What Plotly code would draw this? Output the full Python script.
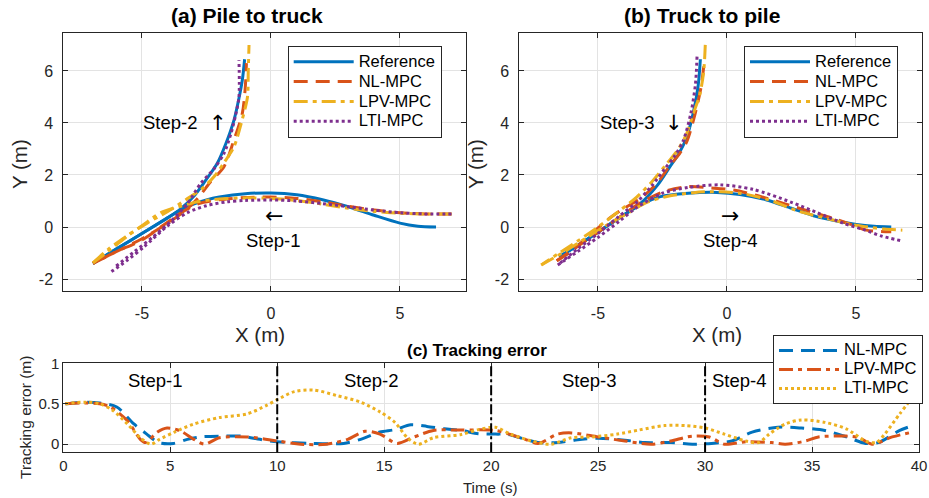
import plotly.graph_objects as go

# ---------------- data: (a) Pile to truck ----------------
a_ref_s1_x = [6.4, 5.7, 5.0, 4.0, 3.0, 2.0, 1.0, 0.0, -1.0, -2.0, -2.5, -3.0, -3.5, -4.0, -5.0, -6.0, -6.9]
a_ref_s1_y = [0.0, 0.03, 0.15, 0.45, 0.78, 1.05, 1.24, 1.31, 1.28, 1.15, 1.04, 0.88, 0.65, 0.36, -0.25, -0.85, -1.4]
a_ref_s2_x = [-6.9, -6.0, -5.0, -4.0, -3.5, -3.0, -2.6, -2.08, -1.75, -1.43, -1.25, -1.11, -1.02]
a_ref_s2_y = [-1.4, -0.85, -0.25, 0.36, 0.7, 1.17, 1.7, 2.45, 3.2, 4.12, 4.9, 5.65, 6.45]

a_nl_s1_x = [7.0, 6.0, 5.0, 4.0, 3.0, 2.0, 1.0, 0.0, -1.0, -2.0, -2.8, -3.4, -4.2, -5.0, -6.0, -6.9]
a_nl_s1_y = [0.5, 0.5, 0.55, 0.65, 0.8, 0.97, 1.1, 1.15, 1.13, 1.05, 0.9, 0.6, 0.05, -0.5, -0.95, -1.4]
a_nl_s2_x = [-6.9, -6.0, -5.0, -4.0, -3.3, -2.8, -2.34, -1.82, -1.45, -1.11, -1.0, -0.95]
a_nl_s2_y = [-1.4, -0.95, -0.45, 0.15, 0.65, 1.15, 1.74, 2.32, 3.3, 4.37, 5.3, 6.3]

a_lpv_s1_x = [7.0, 6.0, 5.0, 4.0, 3.0, 2.0, 1.0, 0.0, -1.0, -2.0, -2.8, -3.5, -4.27, -5.0, -5.6, -6.3, -6.9]
a_lpv_s1_y = [0.5, 0.5, 0.53, 0.6, 0.72, 0.88, 1.02, 1.1, 1.12, 1.08, 0.98, 0.8, 0.55, 0.05, -0.35, -0.85, -1.38]
a_lpv_s2_x = [-6.9, -6.2, -5.5, -4.8, -4.0, -3.3, -2.7, -2.2, -1.8, -1.43, -1.15, -0.91, -0.88, -0.85]
a_lpv_s2_y = [-1.38, -0.85, -0.3, 0.15, 0.6, 1.05, 1.45, 1.94, 2.5, 3.09, 4.0, 5.0, 6.0, 7.0]

a_lti_s1_x = [7.0, 6.0, 5.0, 4.0, 3.0, 2.0, 1.0, 0.0, -1.0, -1.7, -2.5, -3.24, -4.0, -4.92, -5.6, -6.28]
a_lti_s1_y = [0.5, 0.5, 0.55, 0.65, 0.78, 0.9, 1.0, 1.04, 1.02, 0.97, 0.82, 0.55, 0.05, -0.76, -1.3, -1.78]
a_lti_s2_x = [-6.0, -5.3, -4.6, -3.9, -3.24, -2.72, -2.2, -1.82, -1.55, -1.37, -1.24, -1.24]
a_lti_s2_y = [-1.5, -0.95, -0.4, 0.2, 0.9, 1.68, 2.25, 2.83, 3.6, 4.3, 5.0, 6.42]

# ---------------- data: (b) Truck to pile ----------------
b_ref_s3_x = [-1.03, -1.12, -1.31, -1.58, -1.85, -2.19, -2.7, -3.35, -4.1, -4.89, -5.7, -6.5]
b_ref_s3_y = [6.45, 5.4, 4.37, 3.4, 2.85, 2.35, 1.6, 0.91, 0.4, -0.12, -0.65, -1.14]
b_ref_s4_x = [-6.5, -5.7, -4.89, -4.1, -3.35, -2.58, -1.5, -0.39, 0.5, 1.54, 2.5, 3.47, 4.3, 5.02, 5.7, 6.37]
b_ref_s4_y = [-1.14, -0.65, -0.12, 0.4, 0.85, 1.17, 1.3, 1.33, 1.25, 1.04, 0.72, 0.4, 0.22, 0.1, 0.03, 0.0]

b_nl_s3_x = [-0.9, -1.0, -1.23, -1.55, -1.85, -2.15, -2.7, -3.35, -3.99, -4.6, -5.3, -6.05, -6.6]
b_nl_s3_y = [6.17, 5.4, 4.37, 3.3, 2.8, 2.45, 1.7, 1.1, 0.72, 0.3, -0.3, -0.95, -1.3]
b_nl_s4_x = [-6.6, -5.8, -5.0, -4.2, -3.4, -2.45, -1.54, -0.6, 0.26, 1.2, 2.19, 3.2, 4.12, 4.8, 5.4, 6.37]
b_nl_s4_y = [-1.3, -0.75, -0.2, 0.35, 0.9, 1.36, 1.55, 1.5, 1.42, 1.2, 0.91, 0.6, 0.33, 0.1, -0.12, -0.18]

b_lpv_s3_x = [-0.84, -0.9, -1.05, -1.3, -1.6, -1.95, -2.32, -2.9, -3.5, -4.2, -5.0, -5.8, -6.5, -7.2]
b_lpv_s3_y = [7.0, 6.0, 5.1, 4.37, 3.5, 2.9, 2.45, 1.75, 1.15, 0.6, 0.0, -0.55, -1.0, -1.46]
b_lpv_s4_x = [-7.2, -6.3, -5.5, -4.7, -3.9, -3.1, -2.2, -1.3, -0.52, 0.5, 1.6, 2.83, 4.0, 4.8, 5.4, 6.1, 6.8]
b_lpv_s4_y = [-1.46, -0.95, -0.45, 0.05, 0.5, 0.95, 1.2, 1.32, 1.36, 1.3, 1.05, 0.59, 0.3, 0.1, 0.01, -0.08, -0.12]

b_lti_s3_x = [-1.16, -1.22, -1.4, -1.7, -2.05, -2.4, -2.9, -3.5, -4.2, -5.0, -5.8, -6.56]
b_lti_s3_y = [6.55, 5.5, 4.37, 3.3, 2.7, 2.25, 1.6, 0.95, 0.4, -0.25, -0.85, -1.46]
b_lti_s4_x = [-6.56, -5.8, -5.0, -4.2, -3.5, -2.5, -1.5, -0.26, 1.0, 2.5, 3.5, 4.5, 5.3, 6.0, 6.76]
b_lti_s4_y = [-1.46, -0.95, -0.4, 0.2, 0.75, 1.3, 1.52, 1.62, 1.45, 0.95, 0.55, 0.15, -0.1, -0.35, -0.53]

# ---------------- data: (c) Tracking error ----------------
nl_t = [0.1, 1.0, 1.7, 2.5, 3.3, 3.9, 4.45, 5.15, 5.8, 6.4, 7.3, 8.3, 9.2, 10, 11.6, 13.1, 13.9, 14.8, 15.5,
        16.25, 17, 17.8, 18.6, 19.4, 20.2, 20.8, 21.6, 22.2, 23.1, 23.9, 25, 26.25, 27.2, 28.4, 29.4, 30.3,
        31.25, 32.2, 33.4, 34.5, 35.6, 36.6, 37.5, 38.1, 39.1, 39.7]
nl_e = [0.5, 0.52, 0.51, 0.46, 0.25, 0.125, 0.02, 0.01, 0.06, 0.09, 0.1, 0.1, 0.06, 0.03, 0.01, 0.01, 0.06, 0.15, 0.18,
        0.24, 0.22, 0.19, 0.17, 0.13, 0.125, 0.12, 0.06, 0.02, 0.02, 0.05, 0.075, 0.05, 0.02, 0.02, 0.0, 0.01,
        0.04, 0.15, 0.21, 0.2, 0.17, 0.09, 0.01, 0.02, 0.17, 0.23]

lpv_t = [0.1, 1.0, 1.7, 2.2, 3.0, 3.6, 3.85, 4.4, 4.85, 5.5, 6.1, 6.6, 7.3, 8.6, 10, 11.1, 12.3, 13.3, 14.1, 14.8,
         15.6, 16.4, 17.3, 18.6, 20.2, 20.9, 21.6, 22.2, 23.1, 23.75, 25, 26.25, 27.5, 28.4, 29.4, 30.2, 30.9,
         31.9, 33.1, 33.75, 34.7, 35.3, 36.6, 37.2, 37.8, 38.75, 39.7]
lpv_e = [0.5, 0.51, 0.5, 0.46, 0.29, 0.06, 0.02, 0.15, 0.2, 0.16, 0.06, 0.0, 0.08, 0.09, 0.04, 0.0, 0.0, 0.06, 0.16, 0.125,
         0.01, 0.09, 0.17, 0.175, 0.17, 0.12, 0.06, 0.01, 0.125, 0.14, 0.09, 0.04, 0.0, 0.04, 0.1, 0.09, 0.0,
         0.03, 0.02, 0.0, 0.04, 0.09, 0.1, 0.08, 0.0, 0.09, 0.15]

lti_t = [0.1, 1.0, 1.7, 2.3, 3.0, 3.6, 4.1, 4.5, 5.2, 6.1, 7.3, 8.6, 9.5, 10, 10.8, 11.7, 12.8, 13.9, 14.8, 15.5,
         16.1, 16.6, 17.3, 18.6, 19.4, 20.2, 20.9, 21.9, 22.8, 23.75, 24.7, 25.9, 26.9, 28.1, 29.1, 30, 30.9,
         31.9, 32.5, 33, 33.75, 34.5, 35.6, 36.6, 37.5, 38, 38.4, 39.1, 39.7]
lti_e = [0.5, 0.52, 0.5, 0.42, 0.25, 0.08, 0.0, 0.06, 0.15, 0.25, 0.33, 0.375, 0.48, 0.55, 0.65, 0.67, 0.6, 0.52, 0.4, 0.27,
         0.075, 0.0, 0.08, 0.12, 0.18, 0.21, 0.125, 0.04, 0.0, 0.08, 0.09, 0.125, 0.175, 0.23, 0.23, 0.2, 0.125,
         0.04, 0.02, 0.125, 0.25, 0.3, 0.27, 0.19, 0.04, 0.02, 0.125, 0.375, 0.58]

step_bounds = [10, 20, 30]
step_labels = ["Step-1", "Step-2", "Step-3", "Step-4"]
step_label_t = [4.3, 14.4, 24.6, 31.6]
step_label_e = [0.79, 0.79, 0.79, 0.79]

xy_tickvals = [-5, 0, 5]
xy_ticktext = ["-5", "0", "5"]
yy_tickvals = [-2, 0, 2, 4, 6]
yy_ticktext = ["-2", "0", "2", "4", "6"]
t_tickvals = [0, 5, 10, 15, 20, 25, 30, 35, 40]
e_tickvals = [0, 0.5, 1]
e_ticktext = ["0", "0.5", "1"]

# ---------------- styling ----------------
W, H = 929, 498
FONT = "Liberation Sans"
BLUE, ORANGE, YELLOW, PURPLE = "#0072BD", "#D95319", "#EDB120", "#7E2F8E"
DASH = "14px,8px"
DASHDOT = "14px,5px,4px,5px"
DOT = "3px,3px"
LW = 3


def px_x(p):
    return p / W


def px_y(p):
    return 1 - p / H


def legname(s):
    return '<span style="font-size:16.5px">%s</span>' % s


fig = go.Figure()


def add_traj(xs1, ys1, xs2, ys2, name, color, dash, xa, ya, legend):
    fig.add_trace(go.Scatter(
        x=xs1 + [None] + xs2, y=ys1 + [None] + ys2, mode="lines", name=legname(name),
        line=dict(color=color, width=LW, dash=dash, shape="spline", smoothing=0.8),
        xaxis=xa, yaxis=ya, legend=legend, connectgaps=False))


add_traj(a_ref_s1_x, a_ref_s1_y, a_ref_s2_x, a_ref_s2_y, "Reference", BLUE, "solid", "x", "y", "legend")
add_traj(a_nl_s1_x, a_nl_s1_y, a_nl_s2_x, a_nl_s2_y, "NL-MPC", ORANGE, DASH, "x", "y", "legend")
add_traj(a_lpv_s1_x, a_lpv_s1_y, a_lpv_s2_x, a_lpv_s2_y, "LPV-MPC", YELLOW, DASHDOT, "x", "y", "legend")
add_traj(a_lti_s1_x, a_lti_s1_y, a_lti_s2_x, a_lti_s2_y, "LTI-MPC", PURPLE, DOT, "x", "y", "legend")

add_traj(b_ref_s3_x, b_ref_s3_y, b_ref_s4_x, b_ref_s4_y, "Reference", BLUE, "solid", "x2", "y2", "legend2")
add_traj(b_nl_s3_x, b_nl_s3_y, b_nl_s4_x, b_nl_s4_y, "NL-MPC", ORANGE, DASH, "x2", "y2", "legend2")
add_traj(b_lpv_s3_x, b_lpv_s3_y, b_lpv_s4_x, b_lpv_s4_y, "LPV-MPC", YELLOW, DASHDOT, "x2", "y2", "legend2")
add_traj(b_lti_s3_x, b_lti_s3_y, b_lti_s4_x, b_lti_s4_y, "LTI-MPC", PURPLE, DOT, "x2", "y2", "legend2")

for t, e, name, color, dash in [(nl_t, nl_e, "NL-MPC", BLUE, DASH),
                                (lpv_t, lpv_e, "LPV-MPC", ORANGE, DASHDOT),
                                (lti_t, lti_e, "LTI-MPC", YELLOW, DOT)]:
    fig.add_trace(go.Scatter(x=t, y=e, mode="lines", name=legname(name),
                             line=dict(color=color, width=LW, dash=dash, shape="spline", smoothing=0.8),
                             xaxis="x3", yaxis="y3", legend="legend3"))

AX = "#262626"
GRID = "#e3e3e3"


def axis(domain, rng, tickvals, ticktext=None, size=16, standoff=0, anchor=None):
    d = dict(domain=domain, range=rng, tickvals=tickvals, showline=True, linecolor=AX, linewidth=1,
             mirror="ticks", ticks="inside", ticklen=5, tickcolor=AX, showgrid=True, gridcolor=GRID,
             gridwidth=1, zeroline=False, tickfont=dict(family=FONT, size=size, color=AX),
             automargin=False, ticklabelstandoff=standoff)
    if ticktext is not None:
        d["ticktext"] = ticktext
    if anchor:
        d["anchor"] = anchor
    return d


top_dom = [px_y(291), px_y(32.7)]
bot_dom = [px_y(452.3), px_y(363.3)]
xr = [-8.05, 7.55]
yr = [-2.46, 7.47]

fig.update_layout(
    width=W, height=H, margin=dict(l=0, r=0, t=0, b=0),
    paper_bgcolor="white", plot_bgcolor="white", showlegend=True,
    xaxis=axis([px_x(63.3), px_x(465.7)], xr, xy_tickvals, xy_ticktext, standoff=8, anchor="y"),
    yaxis=axis(top_dom, yr, yy_tickvals, yy_ticktext, standoff=6, anchor="x"),
    xaxis2=axis([px_x(519.3), px_x(921.7)], xr, xy_tickvals, xy_ticktext, standoff=8, anchor="y2"),
    yaxis2=axis(top_dom, yr, yy_tickvals, yy_ticktext, standoff=6, anchor="x2"),
    xaxis3=axis([px_x(63.3), px_x(919)], [0, 40], t_tickvals, size=15, standoff=0, anchor="y3"),
    yaxis3=axis(bot_dom, [-0.1, 1.0], e_tickvals, e_ticktext, size=15, standoff=0, anchor="x3"),
)

leg_common = dict(xanchor="left", yanchor="top", bgcolor="white", bordercolor=AX, borderwidth=1,
                  itemwidth=60, tracegroupgap=0, itemclick=False, itemdoubleclick=False)
fig.update_layout(
    legend=dict(x=px_x(287.7), y=px_y(45.7), font=dict(family=FONT, size=13, color="#000"), **leg_common),
    legend2=dict(x=px_x(744), y=px_y(45.7), font=dict(family=FONT, size=13, color="#000"), **leg_common),
    legend3=dict(x=px_x(773), y=px_y(335), font=dict(family=FONT, size=11.5, color="#000"), **leg_common),
)

# vertical step boundaries
for b in step_bounds:
    fig.add_shape(type="line", xref="x3", yref="y3 domain", x0=b, x1=b, y0=0, y1=1,
                  line=dict(color="black", width=2, dash="10px,3px,3px,3px"))

ann = []


def text(x, y, s, size, xref="paper", yref="paper", angle=0, color="#000", bold=False, family=FONT):
    ann.append(dict(x=x, y=y, xref=xref, yref=yref, text=("<b>%s</b>" % s) if bold else s,
                    showarrow=False, textangle=angle, xanchor="center", yanchor="middle",
                    font=dict(family=family, size=size, color=color)))


ARW = "DejaVu Sans"
# titles
text(px_x(247), px_y(16), "(a) Pile to truck", 21, bold=True)
text(px_x(702), px_y(16), "(b) Truck to pile", 21, bold=True)
text(px_x(477), px_y(350), "(c) Tracking error", 17, bold=True)
# axis labels
text(px_x(19), px_y(164), "Y (m)", 20.5, angle=-90, color=AX)
text(px_x(475), px_y(164), "Y (m)", 20.5, angle=-90, color=AX)
text(px_x(260), px_y(334), "X (m)", 20.5, color=AX)
text(px_x(717), px_y(334), "X (m)", 20.5, color=AX)
text(px_x(490), px_y(487), "Time (s)", 15, color=AX)
text(px_x(25), px_y(418), "Tracking error (m)", 15.5, angle=-90, color=AX)
# step annotations on trajectory plots
text(-3.9, 4.0, "Step-2", 18.5, "x", "y")
text(-2.07, 4.0, "↑", 21, "x", "y", family=ARW)
text(0.1, 0.46, "←", 22, "x", "y", family=ARW)
text(0.1, -0.5, "Step-1", 18.5, "x", "y")
text(-3.85, 4.0, "Step-3", 18.5, "x2", "y2")
text(-2.07, 4.0, "↓", 21, "x2", "y2", family=ARW)
text(0.13, 0.46, "→", 22, "x2", "y2", family=ARW)
text(0.13, -0.5, "Step-4", 18.5, "x2", "y2")
# step labels on error plot
for lab, t, e in zip(step_labels, step_label_t, step_label_e):
    text(t, e, lab, 18.5, "x3", "y3")

fig.update_layout(annotations=ann)
fig.write_html("out.html")
